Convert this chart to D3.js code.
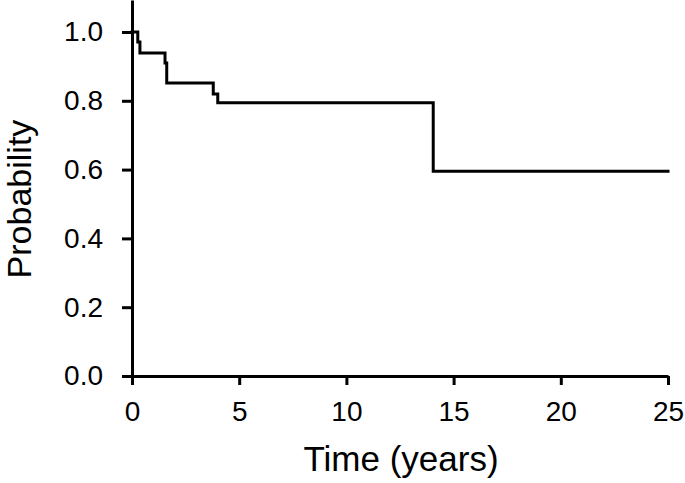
<!DOCTYPE html>
<html>
<head>
<meta charset="utf-8">
<script src="https://cdn.jsdelivr.net/npm/d3@7"></script>
<style>
  html, body { margin: 0; padding: 0; background: #fff; }
  svg { display: block; }
  text { font-family: "Liberation Sans", Arial, sans-serif; fill: #000; }
</style>
</head>
<body>
<svg id="chart" width="685" height="483"></svg>
<script>
// Step-function survival data (time in years, probability after the step)
const stepTimes = [0, 0.27, 0.37, 1.54, 1.62, 3.79, 4.0, 14.05];
const stepProbs = [1.0, 0.971, 0.939, 0.910, 0.852, 0.820, 0.794, 0.595];
const endTime = 25;
const xTicks = [0, 5, 10, 15, 20, 25];
const yTicks = [0, 0.2, 0.4, 0.6, 0.8, 1.0];
const xTitle = "Time (years)";
const yTitle = "Probability";

const svg = d3.select("#chart");
const x = d3.scaleLinear().domain([0, 25]).range([132, 668]);
const y = d3.scaleLinear().domain([0, 1.093]).range([376, 0]);

const pts = stepTimes.map((t, i) => [t, stepProbs[i]]);
pts.push([endTime, stepProbs[stepProbs.length - 1]]);

const line = d3.line().x(d => x(d[0])).y(d => y(d[1])).curve(d3.curveStepAfter);

// axes
const xAxis = svg.append("g").attr("transform", "translate(0,376)")
  .call(d3.axisBottom(x).tickValues(xTicks).tickFormat(d3.format("d")).tickSize(9).tickSizeOuter(0).tickPadding(16));
const yAxis = svg.append("g").attr("transform", "translate(132,0)")
  .call(d3.axisLeft(y).tickValues(yTicks).tickFormat(d3.format(".1f")).tickSize(10).tickSizeOuter(0).tickPadding(19));

[xAxis, yAxis].forEach(g => {
  g.selectAll("path.domain").attr("stroke", "#000").attr("stroke-width", 3);
  g.selectAll(".tick line").attr("stroke", "#000").attr("stroke-width", 3);
  g.selectAll(".tick text").style("font-family", '"Liberation Sans", Arial, sans-serif')
    .style("font-size", "28px").attr("fill", "#000");
});

svg.append("path").datum(pts)
  .attr("d", line)
  .attr("fill", "none")
  .attr("stroke", "#000")
  .attr("stroke-width", 3)
  .attr("stroke-linejoin", "miter")
  .attr("stroke-linecap", "square");

svg.append("text")
  .attr("x", 401).attr("y", 471)
  .attr("text-anchor", "middle")
  .style("font-size", "35px")
  .text(xTitle);

svg.append("text")
  .attr("transform", "translate(31,199) rotate(-90)")
  .attr("text-anchor", "middle")
  .style("font-size", "34px")
  .text(yTitle);
</script>
</body>
</html>
